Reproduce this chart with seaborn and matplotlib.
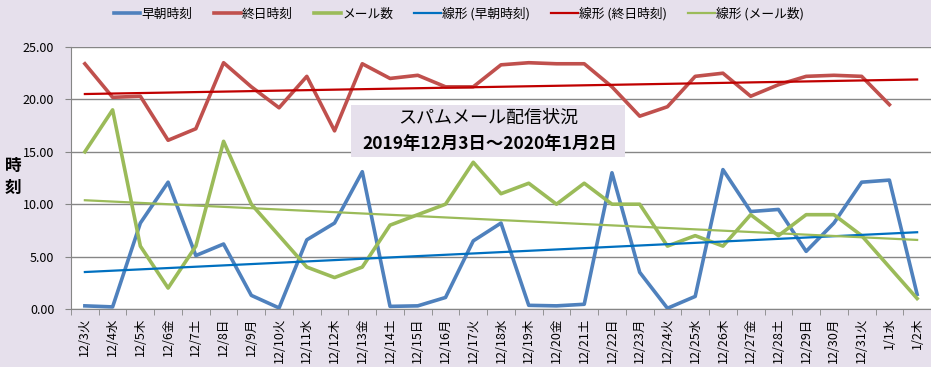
"""
スパムメール配信状況のグラフ (seaborn + matplotlib)
"""

import numpy as np
import pandas as pd

import matplotlib.pyplot as plt
from matplotlib.patches import Rectangle
import seaborn as sns

days = ["12/3火", "12/4水", "12/5木", "12/6金", "12/7土", "12/8日", "12/9月",
        "12/10火", "12/11水", "12/12木", "12/13金", "12/14土", "12/15日", "12/16月",
        "12/17火", "12/18水", "12/19木", "12/20金", "12/21土", "12/22日", "12/23月",
        "12/24火", "12/25水", "12/26木", "12/27金", "12/28土", "12/29日", "12/30月",
        "12/31火", "1/1水", "1/2木"]

early = [0.3, 0.2, 8.2, 12.1, 5.1, 6.2, 1.3, 0.1, 6.6, 8.2, 13.1, 0.25, 0.3, 1.1,
         6.5, 8.2, 0.35, 0.3, 0.45, 13.0, 3.5, 0.07, 1.2, 13.3, 9.3, 9.5, 5.5, 8.2,
         12.1, 12.3, 1.4]
late = [23.4, 20.2, 20.3, 16.1, 17.2, 23.5, 21.2, 19.2, 22.2, 17.0, 23.4, 22.0, 22.3,
        21.2, 21.2, 23.3, 23.5, 23.4, 23.4, 21.2, 18.4, 19.3, 22.2, 22.5, 20.3, 21.4,
        22.2, 22.3, 22.2, 19.5, np.nan]
mails = [15, 19, 6, 2, 6, 16, 10, 7, 4, 3, 4, 8, 9, 10, 14, 11, 12, 10, 12, 10, 10,
         6, 7, 6, 9, 7, 9, 9, 7, 4, 1]

names = ["早朝時刻", "終日時刻", "メール数"]
colors = ["#4F81BD", "#C0504D", "#9BBB59"]
trend_colors = ["#0070C0", "#C00000", "#9BBB59"]

df = pd.DataFrame({"x": np.arange(len(days)), "早朝時刻": early,
                   "終日時刻": late, "メール数": mails})

bg = "#E6E0EC"
plt.rcParams["font.family"] = ["Noto Sans CJK JP", "DejaVu Sans"]

fig = plt.figure(figsize=(9.31, 3.67), dpi=100, facecolor=bg)
ax = fig.add_axes([71 / 931, 1 - 309 / 367, 1 - 71 / 931, 262 / 367])
ax.set_facecolor("white")

# 系列
for name, c in zip(names, colors):
    sns.lineplot(x="x", y=name, data=df, ax=ax, color=c, linewidth=2.6,
                 label=name, legend=False)

# 線形近似
for name, c in zip(names, trend_colors):
    d = df.dropna(subset=[name])
    k, b = np.polyfit(d["x"], d[name], 1)
    sns.lineplot(x=df["x"], y=k * df["x"] + b, ax=ax, color=c, linewidth=1.6,
                 label=f"線形 ({name})", legend=False)

ax.set_xlim(-0.5, 30.36)
ax.set_ylim(0, 25)
ax.set_yticks(np.arange(0, 26, 5))
ax.set_yticklabels([f"{v:.2f}" for v in np.arange(0, 26, 5)], fontsize=9)
ax.set_xticks(df["x"])
ax.set_xticklabels(days, rotation=90, fontsize=9)
ax.set_xticks(np.arange(-0.5, 31, 1), minor=True)
ax.tick_params(axis="x", which="major", length=0, pad=6)
ax.tick_params(axis="x", which="minor", length=4, color="#868686")
ax.tick_params(axis="y", length=4, color="#868686", pad=8)
ax.grid(axis="y", color="#868686", linewidth=1)
ax.set_axisbelow(True)
for s in ["top", "right"]:
    ax.spines[s].set_visible(False)
for s in ["left", "bottom"]:
    ax.spines[s].set_color("#868686")
ax.set_xlabel("")
ax.set_ylabel("")
fig.text(13 / 931, 1 - 177 / 367, "時\n刻", ha="center", va="center",
         fontsize=12, fontweight="bold", linespacing=1.3)

handles, labels = ax.get_legend_handles_labels()
fig.legend(handles, labels, ncol=6, loc="center",
           bbox_to_anchor=(459 / 931, 1 - 14 / 367), frameon=False, fontsize=9.2,
           handlelength=2.1, handletextpad=0.1, columnspacing=1.65)

# タイトル
fig.patches.append(Rectangle((351 / 931, 1 - 157 / 367), 274 / 931, 52 / 367,
                             transform=fig.transFigure, facecolor=bg,
                             edgecolor="none", zorder=5))
fig.text(488 / 931, 1 - 118 / 367, "スパムメール配信状況", ha="center",
         va="center", fontsize=13, zorder=6)
fig.text(490 / 931, 1 - 144 / 367, "2019年12月3日～2020年1月2日", ha="center",
         va="center", fontsize=12.5, fontweight="bold", zorder=6)

fig.savefig("out.png", dpi=100, facecolor=bg)
